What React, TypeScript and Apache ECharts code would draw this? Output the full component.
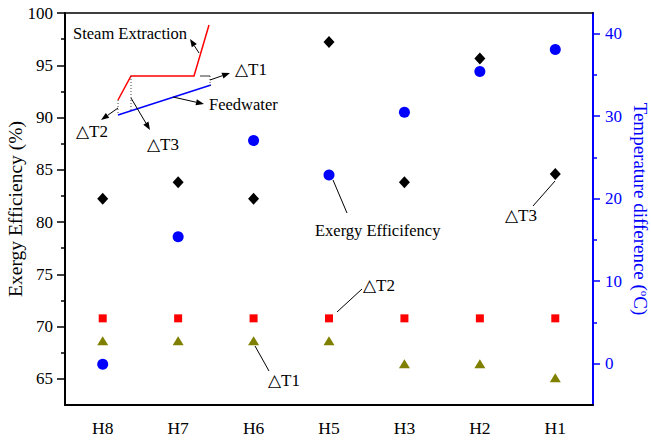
import React, { useEffect, useRef } from "react";
import * as echarts from "echarts";

const categories = ["H8", "H7", "H6", "H5", "H3", "H2", "H1"];
const exergyEfficiency = [66.4, 78.6, 87.8, 84.5, 90.5, 94.4, 96.5];
const deltaT3 = [20, 22, 20, 39, 22, 37, 23];
const deltaT2 = [5.5, 5.5, 5.5, 5.5, 5.5, 5.5, 5.5];
const deltaT1 = [2.8, 2.8, 2.8, 2.8, 0, 0, -1.7];
const leftLabels = [65, 70, 75, 80, 85, 90, 95, 100];
const leftMinor = [67.5, 72.5, 77.5, 82.5, 87.5, 92.5, 97.5];
const rightLabels = [0, 10, 20, 30, 40];
const rightMinor = [5, 15, 25, 35];

const FONT = "Liberation Serif";
const BLUE = "#0000ff";

function arrow(x1: number, y1: number, x2: number, y2: number): any[] {
  const ang = Math.atan2(y2 - y1, x2 - x1);
  const L = 8, W = 3;
  const bx = x2 - L * Math.cos(ang), by = y2 - L * Math.sin(ang);
  const px = -Math.sin(ang) * W, py = Math.cos(ang) * W;
  return [
    { type: "line", shape: { x1, y1, x2: bx, y2: by }, style: { stroke: "#000", lineWidth: 1 } },
    {
      type: "polygon",
      shape: { points: [[x2, y2], [bx + px, by + py], [bx - px, by - py]] },
      style: { fill: "#000" },
    },
  ];
}
function seg(x1: number, y1: number, x2: number, y2: number, stroke = "#000", lineWidth = 1, dash?: number[]) {
  return { type: "line", shape: { x1, y1, x2, y2 }, style: { stroke, lineWidth, lineDash: dash } };
}
function txt(x: number, y: number, text: string, fontSize = 17) {
  return {
    type: "text",
    x,
    y,
    style: { text, fontSize, fontFamily: FONT, fill: "#000", align: "left", verticalAlign: "middle" },
  };
}

export default function App() {
  const ref = useRef<HTMLDivElement>(null);
  useEffect(() => {
    document.body.style.margin = "0";
    const chart = echarts.init(ref.current!, null, { renderer: "svg" });
    const xBase = {
      type: "category",
      data: categories,
      boundaryGap: true,
      axisLabel: { show: false },
      splitLine: { show: false },
    };
    chart.setOption({
      animation: false,
      textStyle: { fontFamily: FONT },
      grid: { left: 65, right: 58, top: 13, bottom: 40, outerBoundsMode: "none", containLabel: false },
      xAxis: [
        {
          ...xBase,
          position: "bottom",
          axisLine: { onZero: false, lineStyle: { color: "#000", width: 2 } },
          axisTick: { alignWithLabel: true, inside: false, length: 7, lineStyle: { color: "#000", width: 1.5 } },
          axisLabel: { show: true, fontFamily: FONT, fontSize: 17.5, color: "#000", margin: 14 },
        },
        {
          ...xBase,
          position: "bottom",
          axisLine: { show: false, onZero: false },
          axisTick: { inside: true, length: 4, lineStyle: { color: "#000", width: 1.5 } },
        },
        {
          ...xBase,
          position: "top",
          axisLine: { onZero: false, lineStyle: { color: "#000", width: 1.5 } },
          axisTick: { alignWithLabel: true, inside: true, length: 3, lineStyle: { color: "#000" } },
        },
        {
          ...xBase,
          position: "top",
          axisLine: { show: false, onZero: false },
          axisTick: { inside: true, length: 3, lineStyle: { color: "#000" } },
        },
      ],
      yAxis: [
        {
          type: "value",
          position: "left",
          min: 62.5,
          max: 100,
          name: "Exergy Efficiency (%)",
          nameLocation: "middle",
          nameRotate: 90,
          nameGap: 40,
          nameMoveOverlap: false,
          nameTextStyle: { fontFamily: FONT, fontSize: 19.5, color: "#000" },
          axisLine: { show: true, onZero: false, lineStyle: { color: "#000", width: 2 } },
          axisTick: { show: true, length: 8, customValues: leftLabels, lineStyle: { color: "#000", width: 1.5 } },
          axisLabel: { customValues: leftLabels, fontFamily: FONT, fontSize: 17, color: "#000", margin: 12 },
          splitLine: { show: false },
        },
        {
          type: "value",
          position: "right",
          min: -5,
          max: 42.5,
          name: "Temperature difference ({sup|o}C)",
          nameLocation: "middle",
          nameRotate: -90,
          nameGap: 38,
          nameMoveOverlap: false,
          nameTextStyle: {
            fontFamily: FONT,
            fontSize: 19,
            color: BLUE,
            rich: { sup: { fontFamily: FONT, fontSize: 11, color: BLUE, verticalAlign: "top", padding: [0, 0, 8, 0] } },
          },
          axisLine: { show: true, onZero: false, lineStyle: { color: BLUE, width: 2 } },
          axisTick: { show: true, length: 7, customValues: rightLabels, lineStyle: { color: BLUE, width: 1.5 } },
          axisLabel: { customValues: rightLabels, fontFamily: FONT, fontSize: 17, color: BLUE, margin: 12 },
          splitLine: { show: false },
        },
        {
          type: "value",
          position: "left",
          min: 62.5,
          max: 100,
          axisLine: { show: false, onZero: false },
          axisTick: { show: true, length: 4, customValues: leftMinor, lineStyle: { color: "#000", width: 1.5 } },
          axisLabel: { show: false },
          splitLine: { show: false },
        },
        {
          type: "value",
          position: "right",
          min: -5,
          max: 42.5,
          axisLine: { show: false, onZero: false },
          axisTick: { show: true, length: 4, customValues: rightMinor, lineStyle: { color: BLUE, width: 1.5 } },
          axisLabel: { show: false },
          splitLine: { show: false },
        },
      ],
      series: [
        {
          name: "Exergy Efficiency",
          type: "scatter",
          xAxisIndex: 0,
          yAxisIndex: 0,
          data: exergyEfficiency,
          symbol: "circle",
          symbolSize: 11,
          itemStyle: { color: BLUE, opacity: 1 },
        },
        {
          name: "ΔT3",
          type: "scatter",
          xAxisIndex: 0,
          yAxisIndex: 1,
          data: deltaT3,
          symbol: "diamond",
          symbolSize: [11, 12],
          itemStyle: { color: "#000", opacity: 1 },
        },
        {
          name: "ΔT2",
          type: "scatter",
          xAxisIndex: 0,
          yAxisIndex: 1,
          data: deltaT2,
          symbol: "rect",
          symbolSize: 8,
          itemStyle: { color: "#ff0000", opacity: 1 },
        },
        {
          name: "ΔT1",
          type: "scatter",
          xAxisIndex: 0,
          yAxisIndex: 1,
          data: deltaT1,
          symbol: "triangle",
          symbolSize: [11, 9],
          itemStyle: { color: "#808000", opacity: 1 },
        },
      ],
      graphic: [
        { type: "polyline", shape: { points: [[118, 100], [131, 76], [194, 76], [209, 25]] }, style: { stroke: "#ff0000", lineWidth: 1.5, fill: null } },
        seg(118, 115, 211, 85, BLUE, 1.5),
        seg(118, 100, 118, 115, "#444", 1, [1, 2]),
        seg(131, 76, 131, 111, "#444", 1, [1, 2]),
        seg(200, 76, 210, 76, "#333", 1),
        seg(210, 76, 210, 86, "#444", 1, [1, 2]),
        ...arrow(199, 53, 190, 39),
        ...arrow(210, 80, 230, 73),
        ...arrow(173, 97, 204, 104),
        ...arrow(118, 108, 101, 120),
        ...arrow(131, 98, 150, 130),
        txt(73, 33, "Steam Extraction", 16.5),
        txt(235, 69, "△T1"),
        txt(209, 104, "Feedwater", 16.5),
        txt(76, 131, "△T2"),
        txt(147, 144, "△T3"),
        seg(333, 180, 347, 213),
        seg(337, 312, 362, 289),
        seg(255, 346, 269, 371),
        seg(555, 181, 533, 206),
        txt(315, 230, "Exergy Efficifency", 16.5),
        txt(363, 285, "△T2"),
        txt(268, 380, "△T1"),
        txt(505, 215, "△T3"),
      ],
    });
    return () => chart.dispose();
  }, []);
  return <div ref={ref} style={{ width: 651, height: 445 }} />;
}
